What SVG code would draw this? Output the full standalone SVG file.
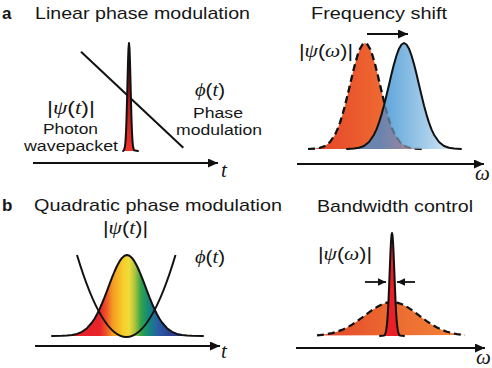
<svg xmlns="http://www.w3.org/2000/svg" width="492" height="368" viewBox="0 0 492 368">
<style>
  text { fill:#161616; }
  .title { font-family:'Liberation Sans', Arial, sans-serif; font-size:17px; }
  .panel { font-family:'Liberation Sans', Arial, sans-serif; font-size:17px; font-weight:bold; }
  .lbl { font-family:'Liberation Sans', Arial, sans-serif; font-size:15.5px; }
  .math { font-family:'Liberation Serif', 'DejaVu Serif', serif; font-size:19px; }
  .axl { font-family:'Liberation Serif', 'DejaVu Serif', serif; font-size:21px; font-style:italic; }
  .it { font-style:italic; }
  .up { font-family:'Liberation Sans', Arial, sans-serif; font-style:normal; }
  .axis { fill:none; stroke:#111; stroke-width:2; }
  .curve { stroke:#111; stroke-width:2; stroke-linejoin:round; stroke-linecap:round; }
  .dash { fill:none; stroke:#111; stroke-width:2.2; stroke-dasharray:7 4; stroke-linejoin:round; }
  .thin { fill:none; stroke:#111; stroke-width:1.8; }
</style>
<defs>
  <marker id="axHead" markerUnits="userSpaceOnUse" markerWidth="11" markerHeight="10" refX="10" refY="4.5" orient="auto">
    <path d="M0,0 L10,4.5 L0,9 Z" fill="#111"/>
  </marker>
  <marker id="smHead" markerUnits="userSpaceOnUse" markerWidth="9" markerHeight="9" refX="8" refY="3.75" orient="auto">
    <path d="M0,0 L8,3.75 L0,7.5 Z" fill="#111"/>
  </marker>
  <linearGradient id="gPulse" x1="0" y1="43" x2="0" y2="151" gradientUnits="userSpaceOnUse">
    <stop offset="0" stop-color="#3a0606"/>
    <stop offset="0.5" stop-color="#b3161a"/>
    <stop offset="1" stop-color="#f2342c"/>
  </linearGradient>
  <linearGradient id="gOrangeA" x1="308" y1="0" x2="422" y2="0" gradientUnits="userSpaceOnUse">
    <stop offset="0" stop-color="#e2402a"/>
    <stop offset="0.5" stop-color="#ec5f2e"/>
    <stop offset="1" stop-color="#f3813a"/>
  </linearGradient>
  <linearGradient id="gBlue" x1="347" y1="0" x2="461" y2="0" gradientUnits="userSpaceOnUse">
    <stop offset="0" stop-color="#4b98d2"/>
    <stop offset="0.35" stop-color="#62a8db"/>
    <stop offset="0.7" stop-color="#a6cdea"/>
    <stop offset="1" stop-color="#e6f1fa"/>
  </linearGradient>
  <linearGradient id="gOverlap" x1="380" y1="0" x2="422" y2="0" gradientUnits="userSpaceOnUse">
    <stop offset="0" stop-color="#6a84ae"/>
    <stop offset="0.5" stop-color="#8f86a2"/>
    <stop offset="1" stop-color="#c98c8c"/>
  </linearGradient>
  <linearGradient id="gRainbow" x1="52" y1="0" x2="203" y2="0" gradientUnits="userSpaceOnUse">
    <stop offset="0" stop-color="#e31e24"/>
    <stop offset="0.318" stop-color="#e8242a"/>
    <stop offset="0.364" stop-color="#ef5a28"/>
    <stop offset="0.40" stop-color="#f39a22"/>
    <stop offset="0.47" stop-color="#f7cd2a"/>
    <stop offset="0.51" stop-color="#f0dc3a"/>
    <stop offset="0.55" stop-color="#a9c23f"/>
    <stop offset="0.59" stop-color="#2fa348"/>
    <stop offset="0.64" stop-color="#14887a"/>
    <stop offset="0.70" stop-color="#2a5ea6"/>
    <stop offset="0.78" stop-color="#2b3f8f"/>
    <stop offset="1" stop-color="#2b3a8c"/>
  </linearGradient>
  <linearGradient id="gOrangeB" x1="317" y1="0" x2="465" y2="0" gradientUnits="userSpaceOnUse">
    <stop offset="0" stop-color="#e2432a"/>
    <stop offset="0.5" stop-color="#ec6a30"/>
    <stop offset="1" stop-color="#f3843a"/>
  </linearGradient>
  <path id="orangeShape" d="M308,149 L315,148.6 L320,147.8 L325,146 L330,142 L335,134.7 L337.5,129.3 L340,122.6 L342.5,114.6 L345,105.4 L347.5,95.3 L350,84.7 L352.5,74.1 L355,64.1 L357.5,55.5 L360,48.7 L362.5,44.5 L365,43 L367.5,44.5 L370,48.7 L372.5,55.5 L375,64.1 L377.5,74.1 L380,84.7 L382.5,95.3 L385,105.4 L387.5,114.6 L390,122.6 L392.5,129.3 L395,134.7 L400,142 L405,146 L410,147.8 L415,148.6 L422,149"/>
  <path id="blueShape" d="M347,149 L354,148.6 L359,147.8 L364,146 L369,142 L374,134.7 L376.5,129.3 L379,122.6 L381.5,114.6 L384,105.4 L386.5,95.3 L389,84.7 L391.5,74.1 L394,64.1 L396.5,55.5 L399,48.7 L401.5,44.5 L404,43 L406.5,44.5 L409,48.7 L411.5,55.5 L414,64.1 L416.5,74.1 L419,84.7 L421.5,95.3 L424,105.4 L426.5,114.6 L429,122.6 L431.5,129.3 L434,134.7 L439,142 L444,146 L449,147.8 L454,148.6 L461,149"/>
  <path id="broadShape" d="M317,335.4 L322,334.8 L327,334.1 L332,333.1 L337,331.7 L342,329.9 L347,327.5 L352,324.7 L357,321.3 L362,317.7 L367,313.9 L372,310.2 L377,306.9 L382,304.3 L387,302.6 L392,302 L397,302.6 L402,304.3 L407,306.9 L412,310.2 L417,313.9 L422,317.7 L427,321.3 L432,324.7 L437,327.5 L442,329.9 L447,331.7 L452,333.1 L457,334.1 L462,334.8 L465,335.1"/>
  <clipPath id="clipOrange">
    <use href="#orangeShape"/>
  </clipPath>
</defs>

<!-- Panel a, left: linear phase modulation -->
<g id="panel-a-left">
  <text class="panel" x="2" y="19">a</text>
  <text class="title" x="35" y="19" textLength="215" lengthAdjust="spacingAndGlyphs">Linear phase modulation</text>
  <path d="M81,51.7 L183.3,147.7" class="axis"/>
  <path d="M123,151 L124,150.2 L125,146.3 L125.5,141.1 L126,132.4 L126.5,119.1 L127,101.5 L127.5,81.4 L128,62.1 L128.5,48.1 L129,43 L129.5,48.1 L130,62.1 L130.5,81.4 L131,101.5 L131.5,119.1 L132,132.4 L132.5,141.1 L133,146.3 L134,150.2 L138,151" fill="url(#gPulse)" class="curve" stroke-width="1.7"/>
  <text class="math" x="47" y="114" textLength="48" lengthAdjust="spacingAndGlyphs"><tspan class="up">|</tspan><tspan class="it">ψ</tspan><tspan class="up">(</tspan><tspan class="it">t</tspan><tspan class="up">)|</tspan></text>
  <text class="lbl" x="43" y="133.5" textLength="55" lengthAdjust="spacingAndGlyphs">Photon</text>
  <text class="lbl" x="24" y="151" textLength="94" lengthAdjust="spacingAndGlyphs">wavepacket</text>
  <text class="math" x="195" y="96" textLength="30" lengthAdjust="spacingAndGlyphs"><tspan class="it">ϕ</tspan><tspan class="up">(</tspan><tspan class="it">t</tspan><tspan class="up">)</tspan></text>
  <text class="lbl" x="193" y="118" textLength="50" lengthAdjust="spacingAndGlyphs">Phase</text>
  <text class="lbl" x="176" y="135" textLength="86" lengthAdjust="spacingAndGlyphs">modulation</text>
</g>

<!-- Panel a, right: frequency shift -->
<g id="panel-a-right">
  <text class="title" x="311" y="19" textLength="136" lengthAdjust="spacingAndGlyphs">Frequency shift</text>
  <use href="#orangeShape" fill="url(#gOrangeA)"/>
  <use href="#orangeShape" class="dash"/>
  <use href="#blueShape" fill="url(#gBlue)"/>
  <g clip-path="url(#clipOrange)">
    <use href="#blueShape" fill="url(#gOverlap)"/>
  </g>
  <use href="#orangeShape" class="dash" stroke-opacity="0.3"/>
  <use href="#blueShape" fill="none" class="curve"/>
  <text class="math" x="299" y="57" textLength="54" lengthAdjust="spacingAndGlyphs"><tspan class="up">|</tspan><tspan class="it">ψ</tspan><tspan class="up">(</tspan><tspan class="it">ω</tspan><tspan class="up">)|</tspan></text>
</g>

<!-- Panel b, left: quadratic phase modulation -->
<g id="panel-b-left">
  <text class="panel" x="2" y="211">b</text>
  <text class="title" x="34" y="211" textLength="248" lengthAdjust="spacingAndGlyphs">Quadratic phase modulation</text>
  <path d="M52,336 L62,335.85 L67,335.6 L72,335 L77,333.9 L82,331.8 L87,328.2 L92,322.5 L94.5,318.7 L97,314.3 L99.5,309.2 L102,303.5 L104.5,297.4 L107,290.8 L109.5,284.2 L112,277.7 L114.5,271.5 L117,266 L119.5,261.4 L122,257.9 L124.5,255.7 L127,255 L129.5,255.7 L132,257.9 L134.5,261.4 L137,266 L139.5,271.5 L142,277.7 L144.5,284.2 L147,290.8 L149.5,297.4 L152,303.5 L154.5,309.2 L157,314.3 L159.5,318.7 L162,322.5 L167,328.2 L172,331.8 L177,333.9 L182,335 L187,335.6 L192,335.85 L203,336" fill="url(#gRainbow)" class="curve"/>
  <path d="M77,255 Q126.5,419 175.5,255" class="axis"/>
  <text class="math" x="103" y="234" textLength="45" lengthAdjust="spacingAndGlyphs"><tspan class="up">|</tspan><tspan class="it">ψ</tspan><tspan class="up">(</tspan><tspan class="it">t</tspan><tspan class="up">)|</tspan></text>
  <text class="math" x="195" y="263" textLength="30" lengthAdjust="spacingAndGlyphs"><tspan class="it">ϕ</tspan><tspan class="up">(</tspan><tspan class="it">t</tspan><tspan class="up">)</tspan></text>
</g>

<!-- Panel b, right: bandwidth control -->
<g id="panel-b-right">
  <text class="title" x="317" y="212" textLength="156" lengthAdjust="spacingAndGlyphs">Bandwidth control</text>
  <use href="#broadShape" fill="url(#gOrangeB)"/>
  <use href="#broadShape" class="dash"/>
  <path d="M380,336 L384,335.6 L385,334.5 L386,331.5 L387,324.2 L387.5,318.2 L388,310.3 L388.5,300.4 L389,288.8 L389.5,276.1 L390,263.2 L390.5,251.3 L391,241.6 L391.5,235.2 L392,233 L392.5,235.2 L393,241.6 L393.5,251.3 L394,263.2 L394.5,276.1 L395,288.8 L395.5,300.4 L396,310.3 L396.5,318.2 L397,324.2 L398,331.5 L399,334.5 L400,335.6 L404,336" fill="#ea1f27" class="curve"/>
  <text class="math" x="318" y="260" textLength="54" lengthAdjust="spacingAndGlyphs"><tspan class="up">|</tspan><tspan class="it">ψ</tspan><tspan class="up">(</tspan><tspan class="it">ω</tspan><tspan class="up">)|</tspan></text>
</g>

<!-- Connectors: axes and arrows -->
<g id="connectors">
  <line x1="33" y1="163" x2="218" y2="163" class="axis" marker-end="url(#axHead)"/>
  <line x1="297" y1="164" x2="484" y2="164" class="axis" marker-end="url(#axHead)"/>
  <line x1="35" y1="346" x2="220" y2="346" class="axis" marker-end="url(#axHead)"/>
  <line x1="296" y1="348" x2="485" y2="348" class="axis" marker-end="url(#axHead)"/>
  <line x1="367" y1="34" x2="408" y2="34" class="axis" marker-end="url(#axHead)"/>
  <line x1="365" y1="282" x2="386" y2="282" class="thin" marker-end="url(#smHead)"/>
  <line x1="415" y1="282" x2="397" y2="282" class="thin" marker-end="url(#smHead)"/>
</g>

<!-- Axis labels -->
<g id="axis-labels">
  <text class="axl" x="221" y="177">t</text>
  <text class="axl" x="475" y="180" font-size="19">ω</text>
  <text class="axl" x="221" y="358">t</text>
  <text class="axl" x="476" y="364" font-size="19">ω</text>
</g>
</svg>
